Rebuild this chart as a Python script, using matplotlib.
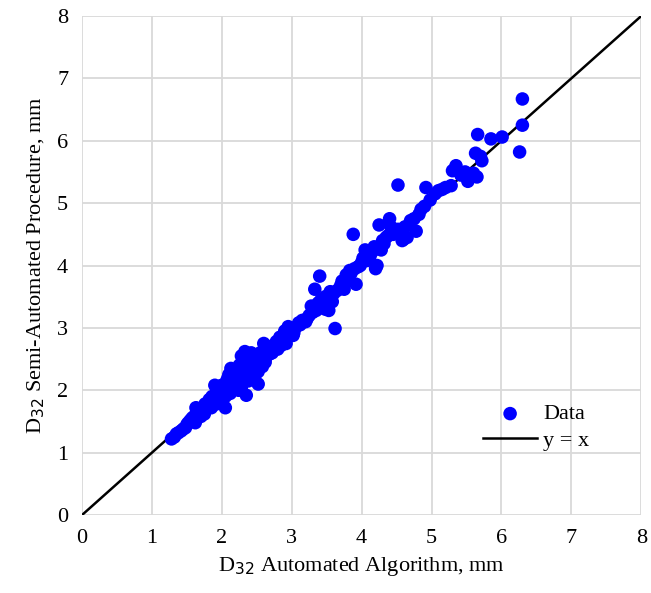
import matplotlib
matplotlib.use("Agg")
import matplotlib.pyplot as plt
import numpy as np

# D32 automated algorithm (x) vs semi-automated procedure (y), mm
auto = [
    1.28, 1.32, 1.35, 1.38, 1.42, 1.45, 1.48, 1.50, 1.52, 1.55, 1.57, 1.58, 1.60, 1.62, 1.63, 1.65,
    1.66, 1.68, 1.70, 1.72, 1.74, 1.76, 1.78, 1.80, 1.82, 1.84, 1.86, 1.88, 1.90, 1.92, 1.94, 1.96,
    1.98, 2.00, 2.02, 2.04, 2.05, 2.07, 2.08, 2.10, 2.12, 2.13, 2.15, 2.17, 2.18, 2.20, 2.22, 2.24,
    2.25, 2.27, 2.28, 2.30, 2.32, 2.33, 2.35, 2.36, 2.38, 2.40, 2.42, 2.45, 2.47, 2.50, 2.52, 2.55,
    2.58, 2.60, 2.62, 2.65, 2.70, 2.72, 2.75, 2.78, 2.80, 2.83, 2.85, 2.88, 2.90, 2.92, 2.95, 2.97,
    3.00, 3.03, 3.05, 3.10, 3.15, 3.20, 3.25, 3.28, 3.30, 3.33, 3.35, 3.38, 3.40, 3.42, 3.45, 3.48,
    3.50, 3.53, 3.55, 3.58, 3.60, 3.62, 3.65, 3.70, 3.72, 3.75, 3.78, 3.80, 3.83, 3.85, 3.88, 3.90,
    3.92, 3.95, 3.98, 4.00, 4.02, 4.05, 4.08, 4.10, 4.12, 4.15, 4.18, 4.20, 4.22, 4.25, 4.28, 4.32,
    4.35, 4.38, 4.40, 4.42, 4.45, 4.48, 4.52, 4.55, 4.58, 4.62, 4.65, 4.70, 4.75, 4.78, 4.82, 4.85,
    4.90, 4.92, 4.98, 5.05, 5.10, 5.15, 5.20, 5.28, 5.30, 5.35, 5.42, 5.48, 5.52, 5.60, 5.63, 5.65,
    5.66, 5.70, 5.72, 5.85, 6.01, 6.26, 6.30, 6.30,
    1.80, 1.95, 2.00, 2.10, 2.22, 2.28, 2.33, 2.45, 2.52, 2.55, 2.68, 2.85, 3.02, 3.12, 3.22, 3.48,
    1.62, 1.70, 1.75, 1.85, 1.92, 1.98, 2.05, 2.12, 2.18, 2.25, 2.30, 2.38, 2.42, 2.48, 2.58, 2.62,
    2.75, 2.90, 3.35, 3.55, 3.75, 4.05, 4.30, 4.60,
]
semi = [
    1.22, 1.25, 1.30, 1.32, 1.35, 1.38, 1.40, 1.45, 1.48, 1.52, 1.50, 1.56, 1.55, 1.60, 1.72, 1.62,
    1.66, 1.70, 1.68, 1.65, 1.72, 1.78, 1.75, 1.80, 1.85, 1.78, 1.90, 1.82, 2.08, 1.95, 1.88, 2.00,
    1.90, 1.96, 2.05, 2.10, 1.72, 2.02, 2.18, 1.98, 2.10, 2.35, 2.05, 2.20, 2.14, 2.28, 2.12, 2.00,
    2.40, 2.18, 2.55, 2.22, 2.32, 2.62, 1.92, 2.48, 2.28, 2.35, 2.40, 2.30, 2.50, 2.42, 2.10, 2.55,
    2.38, 2.75, 2.45, 2.62, 2.70, 2.60, 2.72, 2.78, 2.66, 2.85, 2.82, 2.88, 2.95, 2.75, 3.02, 2.90,
    2.98, 2.92, 3.00, 3.08, 3.12, 3.10, 3.20, 3.35, 3.25, 3.62, 3.30, 3.40, 3.83, 3.45, 3.35, 3.50,
    3.38, 3.28, 3.58, 3.42, 3.55, 2.99, 3.60, 3.68, 3.75, 3.72, 3.85, 3.80, 3.92, 3.88, 4.50, 3.95,
    3.70, 3.98, 4.00, 4.05, 4.12, 4.25, 4.08, 4.18, 4.15, 4.22, 4.30, 3.95, 4.00, 4.65, 4.25, 4.35,
    4.45, 4.48, 4.75, 4.62, 4.50, 4.55, 4.58, 4.52, 4.40, 4.62, 4.45, 4.72, 4.75, 4.55, 4.82, 4.90,
    4.95, 5.25, 5.05, 5.15, 5.20, 5.22, 5.25, 5.28, 5.52, 5.60, 5.45, 5.50, 5.35, 5.48, 5.80, 5.42,
    6.10, 5.75, 5.68, 6.03, 6.06, 5.82, 6.25, 6.67,
    1.75, 2.00, 2.08, 2.25, 2.15, 2.05, 2.45, 2.52, 2.30, 2.60, 2.58, 2.72, 2.88, 3.05, 3.15, 3.30,
    1.48, 1.58, 1.62, 1.72, 1.78, 1.82, 1.90, 1.95, 2.25, 2.02, 2.45, 2.15, 2.60, 2.25, 2.48, 2.50,
    2.65, 2.82, 3.28, 3.45, 3.62, 4.10, 4.40, 4.42,
]
outlier_x = [4.52]
outlier_y = [5.29]
auto = auto + outlier_x
semi = semi + outlier_y

plt.rcParams["font.family"] = ["Liberation Serif", "DejaVu Serif"]
fig = plt.figure(figsize=(6.51, 5.93), dpi=100)
ax = fig.add_axes([0.126, 0.1315, 0.859, 0.8415])

ax.scatter(auto, semi, s=95, color="#0000ff", edgecolors="none", zorder=3, label="Data")
ln = np.array([0, 8])
ax.plot(ln, ln, color="black", lw=1.8, zorder=2, label="y = x")

ax.set_xlim(0, 8); ax.set_ylim(0, 8)
ax.set_xticks(range(9)); ax.set_yticks(range(9))
ax.grid(color="#d9d9d9", lw=1.3, zorder=0)
ax.set_axisbelow(True)
for s in ax.spines.values():
    s.set_visible(False)
ax.tick_params(length=0, labelsize=16, pad=10)
ax.set_xlabel("D$_{32}$ Automated Algorithm, mm", fontsize=16, labelpad=5)
ax.set_ylabel("D$_{32}$ Semi-Automated Procedure, mm", fontsize=16, labelpad=7)
ax.legend(loc="lower left", bbox_to_anchor=(0.69, 0.098), frameon=False, fontsize=16,
          handlelength=2.4, handletextpad=0.3, labelspacing=0.25, borderpad=0.2)

fig.savefig("out.png", dpi=100)
